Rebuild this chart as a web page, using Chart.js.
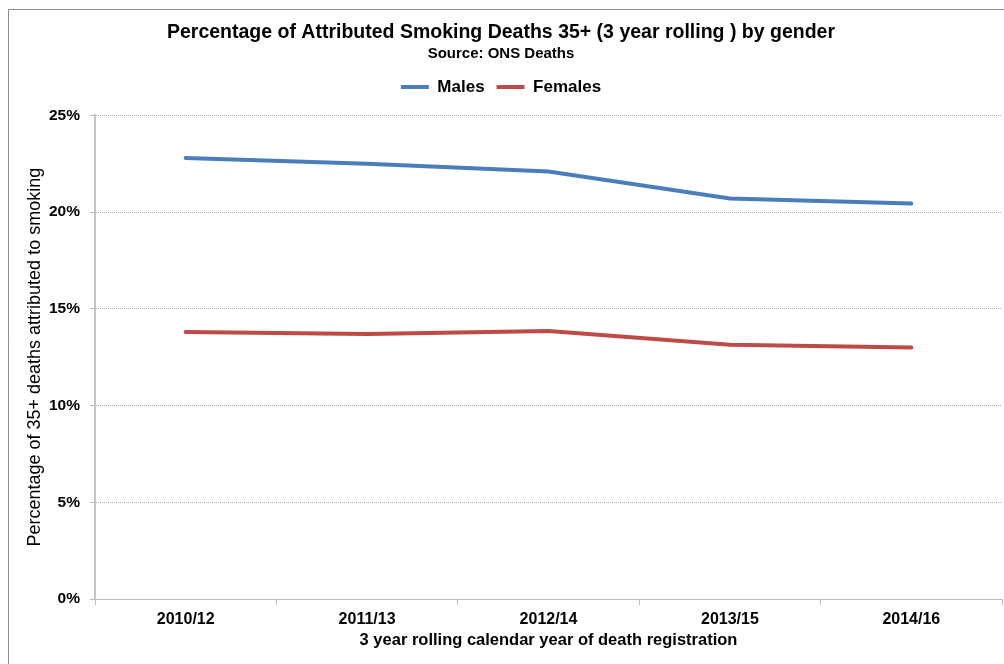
<!DOCTYPE html>
<html>
<head>
<meta charset="utf-8">
<script src="https://cdn.jsdelivr.net/npm/chart.js@4/dist/chart.umd.min.js"></script>
<style>
  html, body { margin: 0; padding: 0; background: #fff; }
  #wrap { width: 1004px; height: 664px; position: relative; }
</style>
</head>
<body>
<div id="wrap"><canvas id="smokingChart"></canvas></div>
<script>
const periods = ['2010/12', '2011/13', '2012/14', '2013/15', '2014/16'];
const males = [22.8, 22.5, 22.1, 20.7, 20.45];
const females = [13.8, 13.7, 13.85, 13.15, 13.0];
const yTicks = [0, 5, 10, 15, 20, 25];

const FONT = '"Liberation Sans", Arial, sans-serif';

// frame around the whole chart area
const framePlugin = {
  id: 'frame',
  beforeDraw(chart) {
    const c = chart.ctx;
    c.save();
    c.fillStyle = '#fff';
    c.fillRect(0, 0, chart.width, chart.height);
    c.strokeStyle = '#8c8c8c';
    c.lineWidth = 1;
    c.beginPath();
    c.moveTo(8.5, chart.height);
    c.lineTo(8.5, 9.5);
    c.lineTo(chart.width, 9.5);
    c.stroke();
    c.restore();
  }
};

// extra room between the legend and the plot
const legendGap = {
  id: 'legendGap',
  beforeInit(chart) {
    const fit = chart.legend.fit;
    chart.legend.fit = function () {
      fit.call(this);
      this.height += 10;
    };
  }
};

const ctx = document.getElementById('smokingChart').getContext('2d');

new Chart(ctx, {
  type: 'line',
  data: {
    labels: periods,
    datasets: [{
      label: 'Males',
      data: males,
      borderColor: '#4a7ebb',
      backgroundColor: '#4a7ebb',
      borderWidth: 4,
      borderCapStyle: 'round',
      pointRadius: 0,
      pointStyle: 'line',
      tension: 0
    }, {
      label: 'Females',
      data: females,
      borderColor: '#be4b48',
      backgroundColor: '#be4b48',
      borderWidth: 4,
      borderCapStyle: 'round',
      pointRadius: 0,
      pointStyle: 'line',
      tension: 0
    }]
  },
  options: {
    responsive: true,
    maintainAspectRatio: false,
    animation: false,
    layout: { padding: { left: 0, right: 2, top: 21, bottom: 0 } },
    plugins: {
      title: {
        display: true,
        text: 'Percentage of Attributed Smoking Deaths 35+ (3 year rolling ) by gender',
        color: '#000',
        font: { family: FONT, size: 19.5, weight: 'bold' },
        padding: { top: 0, bottom: 0 }
      },
      subtitle: {
        display: true,
        text: 'Source: ONS Deaths',
        color: '#000',
        font: { family: FONT, size: 15, weight: 'bold' },
        padding: { top: 0, bottom: 4 }
      },
      legend: {
        labels: {
          color: '#000',
          font: { family: FONT, size: 17, weight: 'bold' },
          usePointStyle: true,
          pointStyleWidth: 28,
          padding: 12
        }
      },
      tooltip: { enabled: false }
    },
    scales: {
      x: {
        offset: true,
        afterFit(s) { s.height = 65; },
        grid: {
          offset: true,
          drawOnChartArea: false,
          drawTicks: true,
          tickLength: 6,
          color: '#bdbdbd'
        },
        border: { color: '#bdbdbd' },
        ticks: {
          color: '#000',
          font: { family: FONT, size: 16, weight: 'bold' },
          padding: 5
        },
        title: {
          display: true,
          text: '3 year rolling calendar year of death registration',
          color: '#000',
          font: { family: FONT, size: 16.5, weight: 'bold' },
          padding: { top: 0, bottom: 14 }
        }
      },
      y: {
        min: 0,
        max: 25,
        afterFit(s) { s.width = 95; },
        afterBuildTicks(s) { s.ticks = yTicks.map(v => ({ value: v })); },
        grid: {
          color: '#a8a8a8',
          tickLength: 5,
          tickColor: '#bdbdbd'
        },
        // dotted horizontal gridlines
        border: { color: '#c4c4c4', width: 2, dash: [1, 1] },
        ticks: {
          color: '#000',
          font: { family: FONT, size: 15.5, weight: 'bold' },
          padding: 10,
          callback: v => v + '%'
        },
        title: {
          display: true,
          text: 'Percentage of 35+ deaths attributed to smoking',
          color: '#000',
          font: { family: FONT, size: 18, weight: 'normal' },
          padding: { top: 24, bottom: 0 }
        }
      }
    }
  },
  plugins: [framePlugin, legendGap]
});
</script>
</body>
</html>
